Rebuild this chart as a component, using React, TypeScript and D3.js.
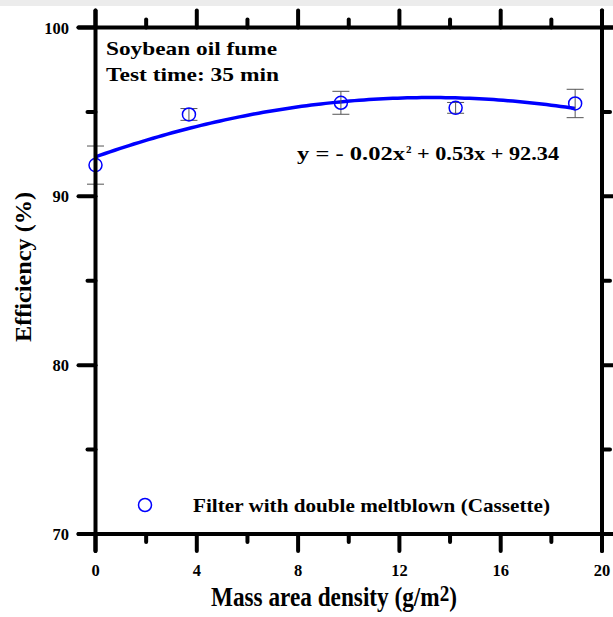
import React, { useLayoutEffect, useRef, useState } from "react";
import * as d3 from "d3";

const massDensity = [0, 3.69, 9.69, 14.22, 18.94];
const efficiency = [91.85, 94.85, 95.54, 95.24, 95.5];
const errorBars = [1.13, 0.35, 0.68, 0.32, 0.84];
const fitCoefficients = [92.34, 0.53, -0.02]; // c0 + c1 x + c2 x^2
const xTicks = [0, 4, 8, 12, 16, 20];
const xMinorTicks = [2, 6, 10, 14, 18];
const yTicks = [70, 80, 90, 100];
const yMinorTicks = [75, 85, 95];

const W = 613;
const H = 617;
const FONT = "'Liberation Serif', 'Times New Roman', serif";
const BLUE = "#0000ff";

export default function App() {
  const left = 95.5, right = 602, top = 27.5, bottom = 534;
  const x = d3.scaleLinear().domain([0, 20]).range([left, right]);
  const y = d3.scaleLinear().domain([70, 100]).range([bottom, top]);

  const titleRef = useRef<SVGTextElement>(null);
  const [titleScale, setTitleScale] = useState(0.83);
  useLayoutEffect(() => {
    const el = titleRef.current;
    if (el) {
      const w = el.getBBox().width;
      if (w > 0) setTitleScale(246 / w);
    }
  }, []);

  const fit = (v: number) =>
    fitCoefficients[0] + fitCoefficients[1] * v + fitCoefficients[2] * v * v;
  const xMax = d3.max(massDensity) as number;
  const samples = d3.range(0, 101).map((i) => (i / 100) * xMax);
  const line = d3
    .line<number>()
    .x((d) => x(d))
    .y((d) => y(fit(d)))
    .curve(d3.curveLinear);

  const axisW = 4;
  const majorLen = 17;
  const minorLen = 8;

  return (
    <div style={{ position: "fixed", left: 0, top: 0 }}>
      <svg width={W} height={H} style={{ display: "block", background: "#fff" }}>
        <rect x={0} y={0} width={W} height={6} fill="#ececec" />

        {/* fit curve */}
        <path d={line(samples) || ""} fill="none" stroke={BLUE} strokeWidth={3.5} />

        {/* error bars */}
        {massDensity.map((m, i) => {
          const cx = x(m);
          const y1 = y(efficiency[i] + errorBars[i]);
          const y2 = y(efficiency[i] - errorBars[i]);
          return (
            <g key={"e" + i} stroke="#555" strokeWidth={1}>
              <line x1={cx} x2={cx} y1={y1} y2={y2} />
              <line x1={cx - 8.5} x2={cx + 8.5} y1={y1} y2={y1} />
              <line x1={cx - 8.5} x2={cx + 8.5} y1={y2} y2={y2} />
            </g>
          );
        })}

        {/* markers */}
        {massDensity.map((m, i) => (
          <circle
            key={"c" + i}
            cx={x(m)}
            cy={y(efficiency[i])}
            r={6.5}
            fill="none"
            stroke={BLUE}
            strokeWidth={1.5}
          />
        ))}

        {/* frame */}
        <g stroke="#000" strokeWidth={axisW} strokeLinecap="round">
          <line x1={left} x2={left} y1={top - majorLen} y2={bottom + majorLen} />
          <line x1={right} x2={right} y1={top - majorLen} y2={bottom + majorLen} />
          <line x1={left - majorLen} x2={right + majorLen} y1={top} y2={top} />
          <line x1={left - majorLen} x2={right + majorLen} y1={bottom} y2={bottom} />
          {xTicks.map((t) => (
            <g key={"xt" + t}>
              <line x1={x(t)} x2={x(t)} y1={bottom} y2={bottom + majorLen} />
              <line x1={x(t)} x2={x(t)} y1={top} y2={top - majorLen} />
            </g>
          ))}
          {xMinorTicks.map((t) => (
            <g key={"xm" + t}>
              <line x1={x(t)} x2={x(t)} y1={bottom} y2={bottom + minorLen} />
              <line x1={x(t)} x2={x(t)} y1={top} y2={top - minorLen} />
            </g>
          ))}
          {yTicks.map((t) => (
            <g key={"yt" + t}>
              <line x1={left} x2={left - majorLen} y1={y(t)} y2={y(t)} />
              <line x1={right} x2={right + majorLen} y1={y(t)} y2={y(t)} />
            </g>
          ))}
          {yMinorTicks.map((t) => (
            <g key={"ym" + t}>
              <line x1={left} x2={left - minorLen} y1={y(t)} y2={y(t)} />
              <line x1={right} x2={right + minorLen} y1={y(t)} y2={y(t)} />
            </g>
          ))}
        </g>

        {/* tick labels */}
        <g fontFamily={FONT} fontWeight="bold" fontSize={16.5} fill="#000">
          {xTicks.map((t) => (
            <text key={"xl" + t} x={x(t)} y={576} textAnchor="middle">
              {t}
            </text>
          ))}
          {yTicks.map((t) => (
            <text key={"yl" + t} x={69} y={y(t) + 6} textAnchor="end">
              {t}
            </text>
          ))}
        </g>

        {/* axis titles */}
        <text
          ref={titleRef}
          transform={`translate(211, 606) scale(${titleScale}, 1)`}
          x={0}
          y={0}
          fontFamily={FONT}
          fontWeight="bold"
          fontSize={28}
          fill="#000"
        >
          Mass area density (g/m<tspan dy={-5} fontSize={23}>2</tspan>
          <tspan dy={5}>)</tspan>
        </text>
        <text
          transform={`translate(31, 267) rotate(-90)`}
          textAnchor="middle"
          fontFamily={FONT}
          fontWeight="bold"
          fontSize={24}
          textLength={150}
          lengthAdjust="spacingAndGlyphs"
        >
          Efficiency (%)
        </text>

        {/* annotations */}
        <g fontFamily={FONT} fontWeight="bold" fontSize={19.5} fill="#000">
          <text x={106} y={55} textLength={171} lengthAdjust="spacingAndGlyphs">
            Soybean oil fume
          </text>
          <text x={106} y={81} textLength={173} lengthAdjust="spacingAndGlyphs">
            Test time: 35 min
          </text>
          <text x={297} y={160} textLength={108} lengthAdjust="spacingAndGlyphs">
            y = - 0.02x
          </text>
          <text x={406} y={153} fontSize={11}>2</text>
          <text x={417} y={160} textLength={142} lengthAdjust="spacingAndGlyphs">
            + 0.53x + 92.34
          </text>
        </g>

        {/* legend */}
        <circle cx={145} cy={505} r={6.5} fill="none" stroke={BLUE} strokeWidth={1.5} />
        <text
          x={193}
          y={512}
          fontFamily={FONT}
          fontWeight="bold"
          fontSize={19.5}
          textLength={357}
          lengthAdjust="spacingAndGlyphs"
        >
          Filter with double meltblown (Cassette)
        </text>
      </svg>
    </div>
  );
}
